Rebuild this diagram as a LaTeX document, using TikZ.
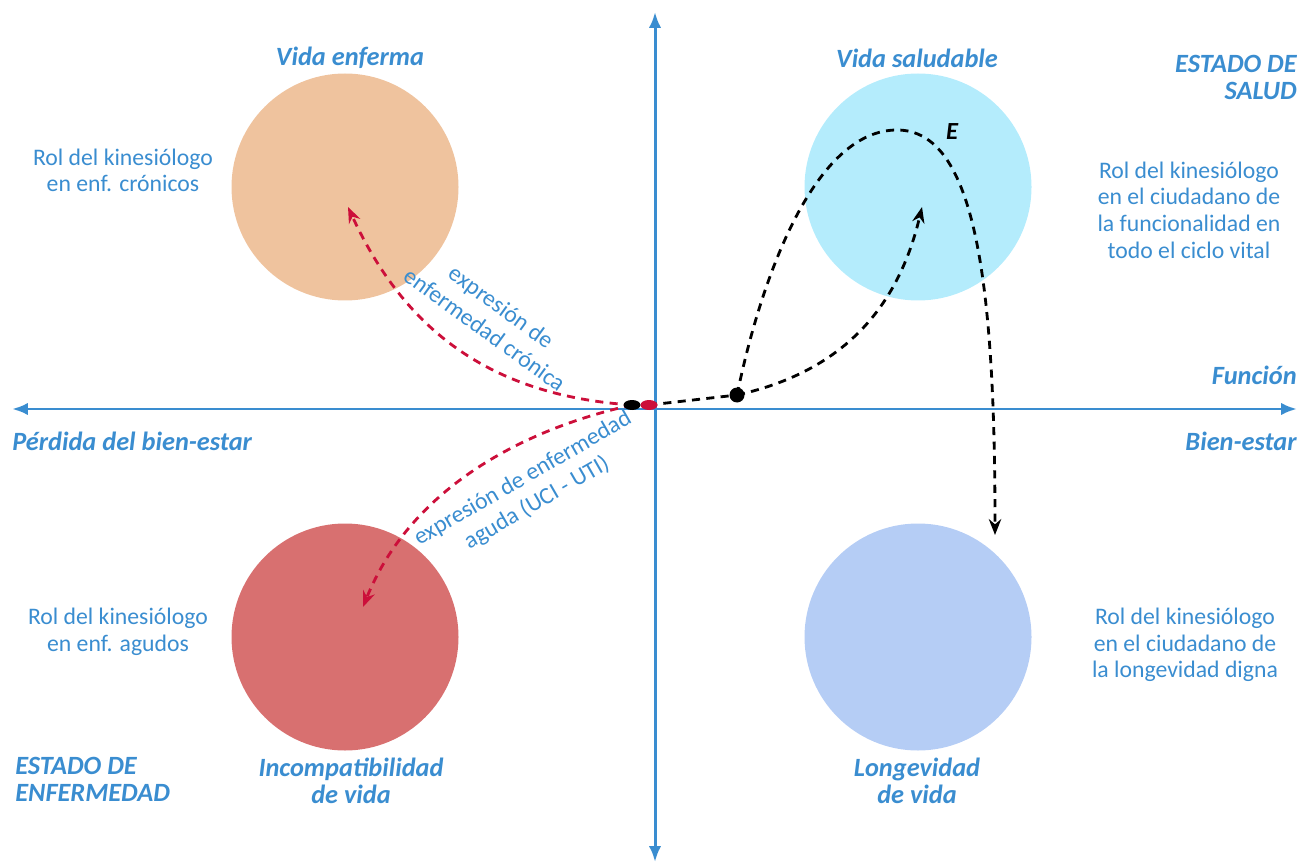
\documentclass[tikz,border=0pt]{standalone}
\usepackage{fontspec}
\setmainfont{Carlito}
\usetikzlibrary{arrows.meta, calc}
\definecolor{axblue}{HTML}{3A8DD0}
\definecolor{peach}{HTML}{EFC39E}
\definecolor{skyblue}{HTML}{B4ECFC}
\definecolor{rosered}{HTML}{D87070}
\definecolor{periwinkle}{HTML}{B5CDF5}
\definecolor{crimson}{HTML}{CC0F3A}

\tikzset{
  ttl/.style={text=axblue, font=\fontsize{15}{15.5}\selectfont\bfseries\itshape,
    align=center, inner sep=0pt},
  rol/.style={text=axblue, font=\fontsize{13.5}{15.2}\selectfont, align=center, inner sep=0pt},
  quad/.style={circle, minimum size=4.54cm, inner sep=0pt},
  trail/.style={line width=1.6pt, dash pattern=on 4.6pt off 3.6pt},
}

\begin{document}
\begin{tikzpicture}[>={Stealth[length=9pt, width=7pt]}]
\useasboundingbox (0,0) rectangle (26.02,17.34);

% Quadrant circles
\node[quad, fill=peach]      (ve) at (6.9,13.6)  {};
\node[quad, fill=skyblue]    (vs) at (18.36,13.6) {};
\node[quad, fill=rosered]    (iv) at (6.9,4.6)   {};
\node[quad, fill=periwinkle] (lv) at (18.36,4.6)  {};

% Axes
\coordinate (west)  at (0.24,9.16);
\coordinate (east)  at (25.94,9.16);
\coordinate (south) at (13.1,0.1);
\coordinate (north) at (13.1,17.1);
\draw[axblue, line width=1.7pt, {Latex[length=9pt,width=7pt]}-{Latex[length=9pt,width=7pt]}]
  (west) -- (east);
\draw[axblue, line width=1.7pt, {Latex[length=9pt,width=7pt]}-{Latex[length=9pt,width=7pt]}]
  (south) -- (north);

% Key points
\coordinate (o1) at (12.64,9.24);  % black dot on the axis
\coordinate (o2) at (12.98,9.24);  % red dot on the axis
\coordinate (pb) at (14.74,9.44);  % black dot, right side
\coordinate (tc) at (6.96,13.2);   % tip into chronic disease
\coordinate (ta) at (7.26,5.2);    % tip into acute disease
\coordinate (ts) at (18.44,13.2);  % tip into healthy life
\coordinate (tl) at (19.9,6.64);   % tip towards longevity

% --- Disease paths (red) ---
\draw[crimson, trail, ->] (o1) .. controls (9.6,9.44) and (8.0,10.94) .. (tc);
\draw[crimson, trail, ->] (o1) .. controls (10.4,8.74) and (8.2,7.54) .. (ta);

% --- Health paths (black) ---
\draw[black, trail] (o2) -- (pb);
\draw[black, trail, ->] (pb) .. controls (17.0,9.94) and (18.0,11.34) .. (ts);
\draw[black, trail, ->] (pb) .. controls (15.3,12.14) and (16.4,14.74) .. (17.94,14.74)
  .. controls (19.5,14.74) and (19.9,11.74) .. (tl);

% Dots (on top)
\fill[black]   (o1) ellipse (0.17 and 0.1);
\fill[crimson] (o2) ellipse (0.17 and 0.1);
\fill[black]   (pb) circle (0.15);

% Curve labels
\node[rol, font=\fontsize{13.5}{16}\selectfont, rotate=-36] (lc) at (9.86,10.98)
  {expresión de\\enfermedad crónica};
\node[rol, font=\fontsize{13.5}{16}\selectfont, rotate=30] (la) at (10.6,7.52)
  {expresión de enfermedad\\aguda (UCI - UTI)};
\node[font=\fontsize{14}{15}\selectfont\bfseries\itshape] (e) at (19.04,14.7) {E};

% Quadrant titles
\node[ttl] (tve) at (7.0,16.18)   {Vida enferma};
\node[ttl] (tvs) at (18.34,16.18) {Vida saludable};
\node[ttl] (tiv) at (7.02,1.73)   {Incompatibilidad\\de vida};
\node[ttl] (tlv) at (18.34,1.73)  {Longevidad\\de vida};

% Axis titles
\node[ttl, anchor=east, align=right] (es) at (25.94,15.79) {ESTADO DE\\SALUD};
\node[ttl, anchor=west, align=left]  (ee) at (0.3,1.75)    {ESTADO DE\\ENFERMEDAD};
\node[ttl, anchor=east] (fn) at (25.94,9.84) {Función};
\node[ttl, anchor=east] (be) at (25.94,8.52) {Bien-estar};
\node[ttl, anchor=west] (pe) at (0.24,8.52)  {Pérdida del bien-estar};

% Roles
\node[rol] (r1) at (2.46,13.93) {Rol del kinesiólogo\\en enf. crónicos};
\node[rol] (r2) at (23.78,13.14)
  {Rol del kinesiólogo\\en el ciudadano de\\la funcionalidad en\\todo el ciclo vital};
\node[rol] (r3) at (2.36,4.7) {Rol del kinesiólogo\\en enf. agudos};
\node[rol] (r4) at (23.7,4.44)
  {Rol del kinesiólogo\\en el ciudadano de\\la longevidad digna};

\end{tikzpicture}
\end{document}
